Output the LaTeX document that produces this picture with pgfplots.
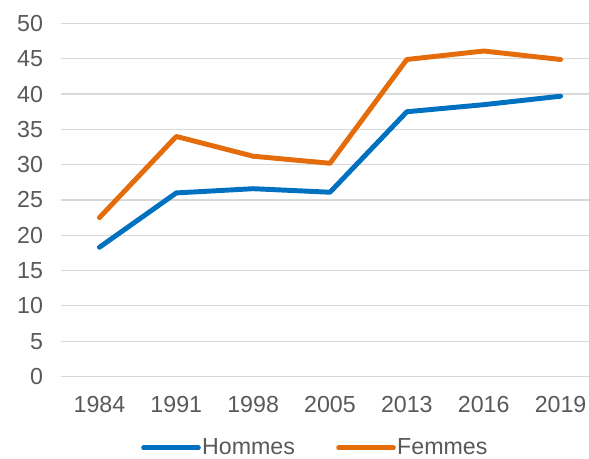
\documentclass[border=0pt]{standalone}
\usepackage{fontspec}
\setmainfont{Liberation Sans}
\usepackage{pgfplots}
\pgfplotsset{compat=1.18}
\definecolor{hom}{HTML}{0070C0}
\definecolor{fem}{HTML}{E46C0A}
\definecolor{gridc}{HTML}{D9D9D9}
\definecolor{txt}{HTML}{595959}
\begin{document}
\begin{tikzpicture}[x=1pt,y=1pt]
\useasboundingbox (-45.75pt,-61.875pt) rectangle (396pt,17.625pt+264.75pt);
\begin{axis}[
  at={(0,0)}, anchor=south west,
  scale only axis, width=396pt, height=264.75pt,
  xmin=-0.5, xmax=6.37, ymin=0, ymax=50,
  axis line style={draw=none},
  ytick={0,5,...,50},
  xtick={0,...,6},
  xticklabels={1984,1991,1998,2005,2013,2016,2019},
  ymajorgrids, grid style={gridc, line width=0.9pt},
  major tick length=0pt,
  /pgf/number format/assume math mode=true,
  tick label style={font=\fontsize{17.4}{20}\selectfont, text=txt},
  yticklabel style={anchor=east, xshift=-10pt},
  xticklabel style={anchor=north, yshift=-11pt},
  legend columns=2,
  legend style={at={(0.481,0)}, anchor=center, yshift=-53pt, draw=none, fill=none,
    font=\fontsize{17.4}{20}\selectfont, text=txt,
    /tikz/every even column/.append style={column sep=30pt},
    inner sep=0pt, nodes={inner sep=1pt}},
  legend image code/.code={\draw[#1, line cap=round] (0pt,-0.6pt) -- (41pt,-0.6pt);},
  every axis plot/.append style={line width=3.7pt, line join=round, line cap=round},
]
\addplot[hom] coordinates {(0,18.3) (1,26.0) (2,26.6) (3,26.1) (4,37.5) (5,38.5) (6,39.7)};
\addlegendentry{Hommes}
\addplot[fem] coordinates {(0,22.5) (1,34.0) (2,31.2) (3,30.2) (4,44.9) (5,46.1) (6,44.9)};
\addlegendentry{Femmes}
\end{axis}
\end{tikzpicture}
\end{document}
